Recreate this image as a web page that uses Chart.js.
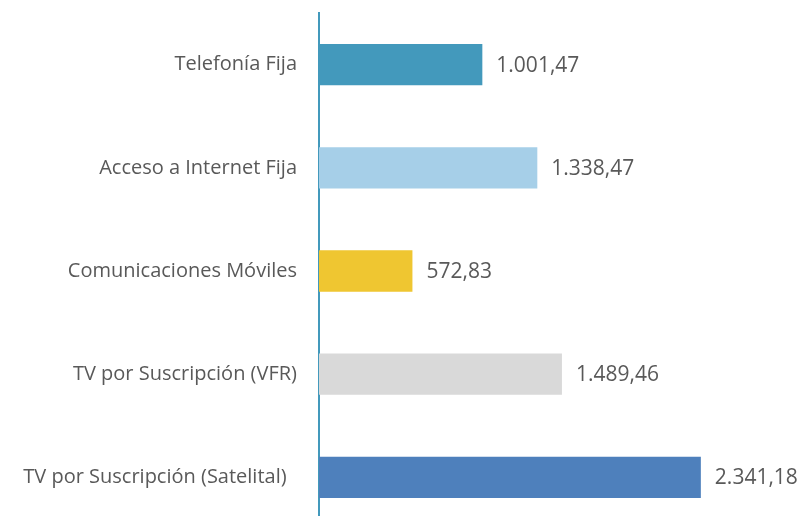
<!DOCTYPE html>
<html>
<head>
<meta charset="utf-8">
<script src="https://cdn.jsdelivr.net/npm/chart.js@4/dist/chart.umd.min.js"></script>
<style>
  html, body { margin: 0; padding: 0; background: #fff; overflow: hidden; }
  #wrap { width: 803px; height: 541px; position: relative; }
</style>
</head>
<body>
<div id="wrap"><canvas id="mychart1"></canvas></div>
<script>
var categories = ['Telefonía Fija', 'Acceso a Internet Fija', 'Comunicaciones Móviles', 'TV por Suscripción (VFR)', 'TV por Suscripción (Satelital)  '];
var values = [1001.47, 1338.47, 572.83, 1489.46, 2341.18];
var barColors = ['#4399bc', '#a6cfe8', '#efc631', '#d9d9d9', '#4e80bc'];

// 1.001,47 style
function fmt(v) {
  var parts = v.toFixed(2).split('.');
  var ent = parts[0].replace(/\B(?=(\d{3})+(?!\d))/g, '.');
  return ent + ',' + parts[1];
}

var valueLabels = {
  id: 'valueLabels',
  afterDatasetsDraw: function(chart) {
    var ctx = chart.ctx;
    var meta = chart.getDatasetMeta(0);
    ctx.save();
    ctx.font = '21px "Open Sans"';
    ctx.fillStyle = '#595959';
    ctx.textAlign = 'left';
    ctx.textBaseline = 'middle';
    meta.data.forEach(function(bar, i) {
      ctx.fillText(fmt(values[i]), bar.x + 14, bar.y + 1);
    });
    ctx.restore();
  }
};

function BuildChart(labels, data) {
  var ctx = document.getElementById('mychart1').getContext('2d');
  var mychart = new Chart(ctx, {
    type: 'bar',
    data: {
      labels: labels,
      datasets: [{
        data: data,
        backgroundColor: barColors,
        borderWidth: 0,
        barPercentage: 0.4,
        categoryPercentage: 1
      }]
    },
    options: {
      indexAxis: 'y',
      responsive: true,
      maintainAspectRatio: false,
      animation: false,
      layout: { padding: { top: 13, bottom: 3, left: 0, right: 11 } },
      plugins: { legend: { display: false }, tooltip: { enabled: false } },
      scales: {
        x: { display: false, min: 0, max: 2900 },
        y: {
          afterFit: function(scale) { scale.width = 319; },
          grid: { display: true, color: 'rgba(0,0,0,0)', drawOnChartArea: false, drawTicks: true, tickLength: 22 },
          border: { display: true, color: '#4399bc', width: 2 },
          ticks: { color: '#595959', font: { family: '"Open Sans"', size: 20 }, padding: 0 }
        }
      }
    },
    plugins: [valueLabels]
  });
  return mychart;
}

BuildChart(categories, values);
</script>
</body>
</html>
